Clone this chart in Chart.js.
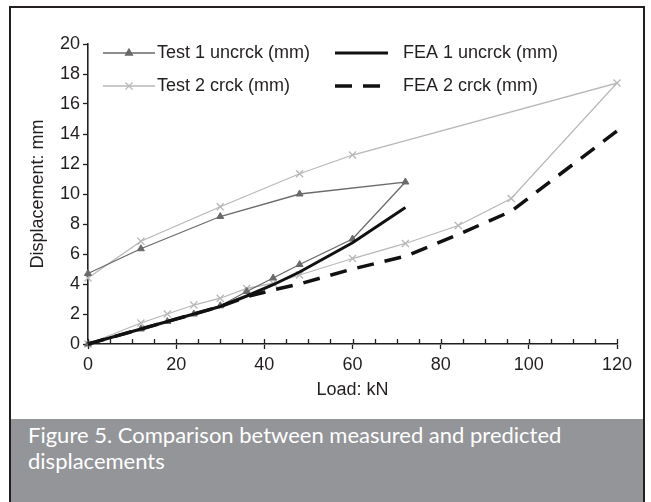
<!DOCTYPE html>
<html>
<head>
<meta charset="utf-8">
<script src="https://cdn.jsdelivr.net/npm/chart.js@4.4.1/dist/chart.umd.min.js"></script>
<style>
  html, body { margin: 0; padding: 0; background: #fff; }
  #frame {
    position: absolute; left: 9px; top: 6px;
    width: 632px; height: 494px;
    border: 2px solid #231f20; border-bottom: none;
  }
  #plot { position: relative; width: 632px; height: 411px; background: #fff; }
  #caption {
    height: 83px; background: #939598; color: #fff;
    font-family: Lato, "Open Sans", sans-serif; font-size: 22px;
    line-height: 26px; padding: 3px 0 0 17px; box-sizing: border-box;
  }
</style>
</head>
<body>
<div id="frame">
  <div id="plot"><canvas id="chart" width="632" height="411"></canvas></div>
  <div id="caption">Figure 5. Comparison between measured and predicted<br>displacements</div>
</div>
<script>
/* Load (kN) vs displacement (mm) */

const test1Load = [0, 12, 18, 24, 30, 36, 42, 48, 60, 72, 48, 30, 12, 0];
const test1Disp = [0, 1.0, 1.5, 2.0, 2.55, 3.5, 4.4, 5.3, 7.0, 10.8, 10.0, 8.5, 6.35, 4.7];

const test2Load = [0, 12, 18, 24, 30, 36, 42, 48, 60, 72, 84, 96, 120, 60, 48, 30, 12, 0];
const test2Disp = [0, 1.4, 2.0, 2.6, 3.05, 3.7, 4.05, 4.6, 5.7, 6.7, 7.9, 9.7, 17.4, 12.6, 11.35, 9.15, 6.85, 4.4];

const fea1Load = [0, 12, 18, 24, 30, 36, 42, 48, 60, 72];
const fea1Disp = [0, 1.0, 1.5, 2.0, 2.5, 3.2, 3.95, 4.8, 6.75, 9.1];

const fea2Load = [0, 12, 18, 24, 30, 36, 42, 48, 60, 72, 84, 96, 120];
const fea2Disp = [0, 1.0, 1.5, 2.0, 2.5, 3.15, 3.6, 4.0, 5.0, 5.85, 7.3, 8.85, 14.2];

const seriesNames = ['Test 1 uncrck (mm)', 'Test 2 crck (mm)', 'FEA 1 uncrck (mm)', 'FEA 2 crck (mm)'];

const xTicks = { min: 0, max: 120, step: 5, labelEvery: 20 };
const yTicks = { min: 0, max: 20, step: 2 };

const INK = '#231f20';
const FONT = 'Liberation Sans';

function pts(xs, ys) {
  return xs.map((x, i) => ({ x, y: ys[i] }));
}

// ── Inner half of the x ticks (minor inside, major crossing) ──
const axisTicksPlugin = {
  id: 'axisTicks',
  afterDatasetsDraw(chart) {
    const { ctx, scales: { x, y } } = chart;
    ctx.save();
    ctx.strokeStyle = INK;
    ctx.lineWidth = 1.3;
    const y0 = y.getPixelForValue(0);
    for (let v = xTicks.min; v <= xTicks.max; v += xTicks.step) {
      const px = Math.round(x.getPixelForValue(v)) + 0.5;
      ctx.beginPath();
      ctx.moveTo(px, y0);
      ctx.lineTo(px, y0 - 5);
      ctx.stroke();
    }
    ctx.restore();
  },
};

// ── Legend drawn inside the plot, two columns ──
const innerLegendPlugin = {
  id: 'innerLegend',
  afterDraw(chart) {
    const { ctx, chartArea } = chart;
    const order = [0, 2, 1, 3];
    const cols = [chartArea.left + 15, chartArea.left + 247];
    const rows = [chartArea.top + 9, chartArea.top + 42];
    ctx.save();
    ctx.font = '18px ' + FONT;
    ctx.textBaseline = 'middle';
    order.forEach((di, k) => {
      const ds = chart.data.datasets[di];
      const col = cols[k % 2];
      const row = rows[Math.floor(k / 2)];
      const isTest = di < 2;
      const len = isTest ? 52 : 53;
      ctx.strokeStyle = ds.borderColor;
      ctx.fillStyle = ds.backgroundColor;
      ctx.lineWidth = ds.borderWidth;
      ctx.setLineDash(ds.borderDash || []);
      ctx.beginPath();
      ctx.moveTo(col, row);
      ctx.lineTo(col + len, row);
      ctx.stroke();
      ctx.setLineDash([]);
      if (isTest) {
        Chart.helpers.drawPoint(ctx, {
          pointStyle: ds.pointStyle,
          radius: ds.pointRadius,
          borderWidth: ds.pointBorderWidth || 1,
        }, col + len / 2, row);
      }
      ctx.fillStyle = INK;
      ctx.fillText(seriesNames[di], col + len + (isTest ? 2 : 15), row);
    });
    ctx.restore();
  },
};

const ctx = document.getElementById('chart').getContext('2d');

new Chart(ctx, {
  type: 'scatter',
  data: {
    datasets: [
      {
        label: seriesNames[0],
        data: pts(test1Load, test1Disp),
        showLine: true,
        borderColor: '#6a6a6a',
        backgroundColor: '#6a6a6a',
        borderWidth: 1.3,
        pointStyle: 'triangle',
        pointRadius: 4,
        pointBorderWidth: 1,
        clip: false,
        order: 3,
      },
      {
        label: seriesNames[1],
        data: pts(test2Load, test2Disp),
        showLine: true,
        borderColor: '#b8b8b8',
        backgroundColor: '#b8b8b8',
        borderWidth: 1.3,
        pointStyle: 'crossRot',
        pointRadius: 5,
        pointBorderWidth: 1.3,
        clip: false,
        order: 4,
      },
      {
        label: seriesNames[2],
        data: pts(fea1Load, fea1Disp),
        showLine: true,
        borderColor: '#111111',
        backgroundColor: '#111111',
        borderWidth: 3,
        pointRadius: 0,
        clip: false,
        order: 1,
      },
      {
        label: seriesNames[3],
        data: pts(fea2Load, fea2Disp),
        showLine: true,
        borderColor: '#111111',
        backgroundColor: '#111111',
        borderWidth: 3.5,
        borderDash: [17, 11],
        pointRadius: 0,
        clip: false,
        order: 2,
      },
    ],
  },
  options: {
    responsive: false,
    devicePixelRatio: 1,
    animation: false,
    events: [],
    layout: { padding: { left: 16, right: 26, top: 36, bottom: 18 } },
    plugins: {
      legend: { display: false },
      tooltip: { enabled: false },
    },
    scales: {
      x: {
        type: 'linear',
        min: xTicks.min,
        max: xTicks.max,
        afterFit: s => { s.height = 57; },
        ticks: {
          stepSize: xTicks.step,
          autoSkip: false,
          maxRotation: 0,
          padding: 5,
          color: INK,
          font: { family: FONT, size: 18 },
          callback: v => (v % xTicks.labelEvery === 0 ? v : ''),
        },
        grid: {
          drawOnChartArea: false,
          tickLength: 5,
          tickWidth: 1.3,
          tickColor: c => (c.tick && c.tick.value % xTicks.labelEvery === 0 ? INK : 'rgba(0,0,0,0)'),
        },
        border: { display: true, color: INK, width: 1.6 },
        title: {
          display: true,
          text: 'Load: kN',
          color: INK,
          font: { family: FONT, size: 18 },
          padding: { top: 2, bottom: 0 },
        },
      },
      y: {
        type: 'linear',
        min: yTicks.min,
        max: yTicks.max,
        afterFit: s => { s.width = 61; },
        ticks: {
          stepSize: yTicks.step,
          padding: 3,
          color: INK,
          font: { family: FONT, size: 18 },
        },
        grid: {
          drawOnChartArea: false,
          tickLength: 5,
          tickWidth: 1.3,
          tickColor: INK,
        },
        border: { display: true, color: INK, width: 1.6 },
        title: {
          display: true,
          text: 'Displacement: mm',
          color: INK,
          font: { family: FONT, size: 18 },
          padding: { top: 0, bottom: 0 },
        },
      },
    },
  },
  plugins: [axisTicksPlugin, innerLegendPlugin],
});
</script>
</body>
</html>
